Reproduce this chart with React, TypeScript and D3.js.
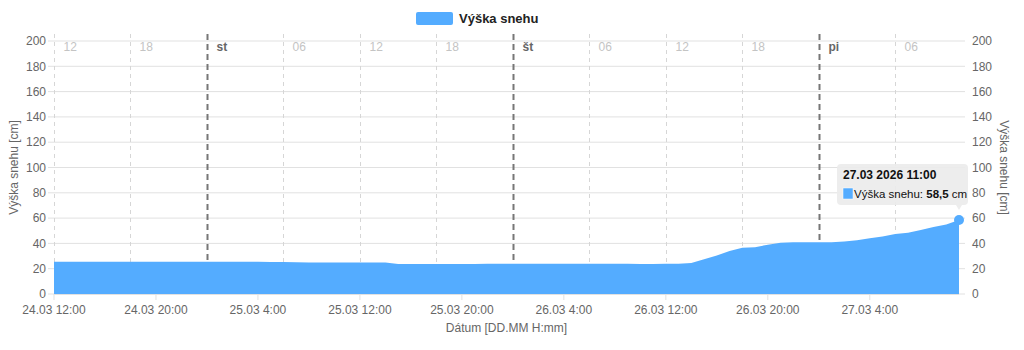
import React from "react";
import * as d3 from "d3";

const startTime = new Date(2026, 2, 24, 12, 0);
const snowDepth: number[] = [
  // 24.03 12:00 - 23:00
  25.5, 25.5, 25.5, 25.5, 25.5, 25.5, 25.5, 25.5, 25.5, 25.5, 25.5, 25.5,
  // 25.03 00:00 - 23:00
  25.5, 25.5, 25.5, 25.5, 25.4, 25.3, 25.2, 25.1, 25, 25, 25, 25, 25, 25, 25, 23.8,
  23.7, 23.7, 23.8, 23.8, 23.8, 23.8, 23.9, 23.9,
  // 26.03 00:00 - 23:00
  24, 24, 24, 24, 24, 24, 24, 24, 23.9, 23.9, 23.8, 23.8, 23.9, 24, 24.5, 27.5,
  30.5, 34, 36.5, 37, 39, 40.5, 41, 41,
  // 27.03 00:00 - 11:00
  41, 41, 41.5, 42.5, 44, 45.5, 47.5, 48.5, 50.5, 53, 55, 58.5,
];
const yTicks = [0, 20, 40, 60, 80, 100, 120, 140, 160, 180, 200];
const dayNames = ["ne", "po", "ut", "st", "št", "pi", "so"];
const seriesName = "Výška snehu";

const W = 1024, H = 350;
const left = 54, right = 959, top = 41, bottom = 294;
const font = "'Liberation Sans', Arial, Helvetica, sans-serif";
const color = "#54acff";

export default function App() {
  const times = snowDepth.map((_, i) => new Date(startTime.getTime() + i * 3600000));
  const x = d3.scaleTime().domain([times[0], times[times.length - 1]]).range([left, right]);
  const y = d3.scaleLinear().domain([0, 200]).range([bottom, top]);
  const area = d3.area<number>().x((_, i) => x(times[i])).y0(y(0)).y1((d) => y(d));

  const guides: Date[] = [];
  for (let t = times[0].getTime(); t <= times[times.length - 1].getTime(); t += 6 * 3600000) guides.push(new Date(t));
  const bTicks: Date[] = [];
  for (let t = times[0].getTime(); t <= times[times.length - 1].getTime(); t += 8 * 3600000) bTicks.push(new Date(t));
  const fmtTick = (d: Date) => `${d3.timeFormat("%d.%m")(d)} ${d.getHours()}:${d3.timeFormat("%M")(d)}`;

  const last = snowDepth.length - 1;
  const px = x(times[last]), py = y(snowDepth[last]);
  const tipX = 837, tipY = 164, tipW = 131, tipH = 41;

  return (
    <svg width={W} height={H} style={{ position: "absolute", left: 0, top: 0, fontFamily: font }}>
      {yTicks.map((v) => (
        <g key={v}>
          <line x1={48} x2={right + 6} y1={y(v)} y2={y(v)} stroke="#e1e1e1" strokeWidth={1} />
          <text x={46} y={y(v)} dy="0.35em" textAnchor="end" fontSize={12} fill="#666">{v}</text>
          <text x={972} y={y(v)} dy="0.35em" textAnchor="start" fontSize={12} fill="#666">{v}</text>
        </g>
      ))}
      {guides.map((d, i) => {
        const h = d.getHours();
        const isDay = h === 0;
        const gx = Math.round(x(d)) + 0.5;
        const label = isDay ? dayNames[d.getDay()] : d3.format("02")(h);
        return (
          <g key={i}>
            <line x1={gx} x2={gx} y1={34} y2={bottom}
              stroke={isDay ? "#777" : "#d6d6d6"} strokeWidth={isDay ? 2 : 1}
              strokeDasharray={isDay ? "6,4" : "4,4"} />
            <text x={gx + 9} y={top + 6} dy="0.35em" fontSize={12} fontWeight={isDay ? "bold" : "normal"}
              fill={isDay ? "#666" : "#c4c4c4"}>{label}</text>
          </g>
        );
      })}
      <path d={area(snowDepth) || ""} fill={color} />
      {bTicks.map((d, i) => (
        <g key={i}>
          <line x1={x(d)} x2={x(d)} y1={bottom} y2={bottom + 6} stroke="#e1e1e1" />
          <text x={x(d)} y={310} dy="0.35em" textAnchor="middle" fontSize={12} fill="#666">{fmtTick(d)}</text>
        </g>
      ))}
      <line x1={left} x2={right} y1={bottom + 0.5} y2={bottom + 0.5} stroke="#e1e1e1" />
      <text x={(left + right) / 2} y={328} dy="0.35em" textAnchor="middle" fontSize={12} fill="#666">Dátum [DD.MM H:mm]</text>
      <text transform={`translate(14,${(top + bottom) / 2}) rotate(-90)`} dy="0.35em" textAnchor="middle" fontSize={12} fill="#666">Výška snehu [cm]</text>
      <text transform={`translate(1004,${(top + bottom) / 2}) rotate(90)`} dy="0.35em" textAnchor="middle" fontSize={12} fill="#666">Výška snehu [cm]</text>
      <rect x={416} y={12} width={37} height={13} rx={2} fill={color} />
      <text x={459} y={18.5} dy="0.35em" fontSize={13} fontWeight="bold" fill="#222">{seriesName}</text>
      <circle cx={px} cy={py} r={5} fill={color} />
      <path d={`M${tipX + 4},${tipY} h${tipW - 8} q4,0 4,4 v${tipH - 8} q0,4 -4,4 h-2 l-3,5 l-3,-5 h${-(tipW - 16)} q-4,0 -4,-4 v${-(tipH - 8)} q0,-4 4,-4 z`}
        fill="rgba(235,235,235,0.92)" />
      <text x={tipX + 6} y={tipY + 11} dy="0.35em" fontSize={12} fontWeight="bold" fill="#111">27.03 2026 11:00</text>
      <rect x={tipX + 6} y={tipY + 24} width={10} height={11} fill={color} stroke="#fff" strokeWidth={0.5} />
      <text x={tipX + 17} y={tipY + 30} dy="0.35em" fontSize={11.5} fill="#111">
        {seriesName}: <tspan fontWeight="bold">{d3.format(".1f")(snowDepth[last]).replace(".", ",")}</tspan> cm
      </text>
    </svg>
  );
}
